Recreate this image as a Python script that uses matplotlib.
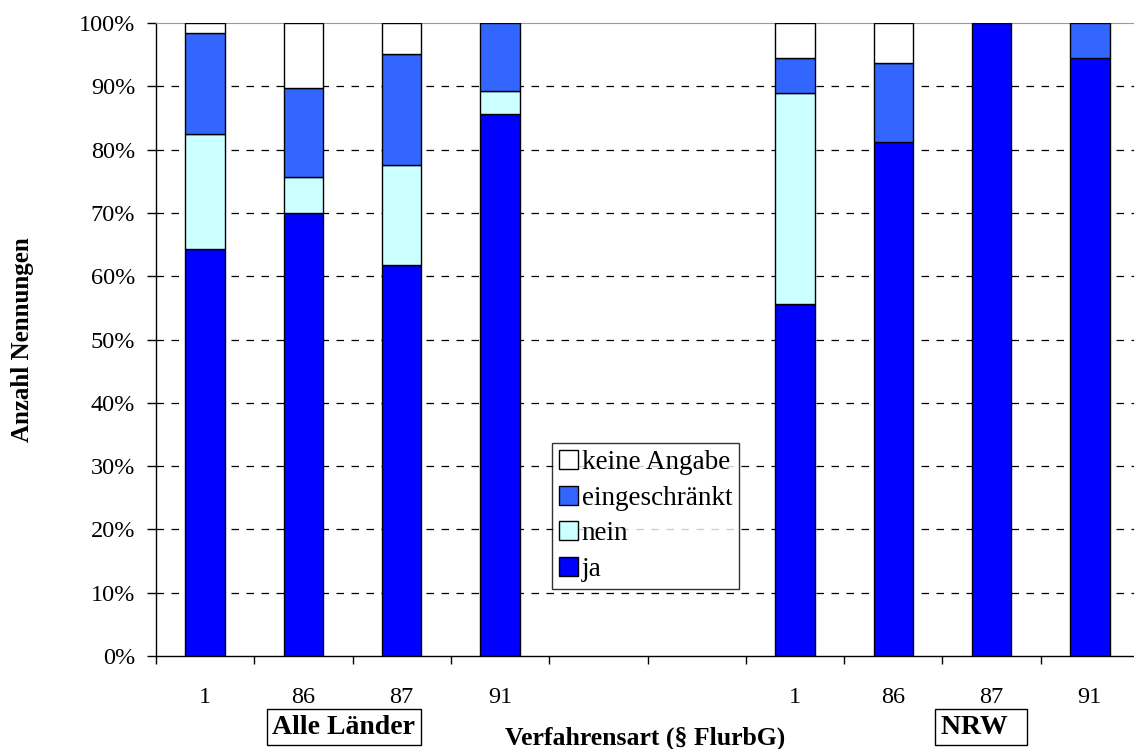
import numpy as np
import matplotlib.pyplot as plt
from matplotlib.patches import Patch

plt.rcParams["font.family"] = ["Liberation Serif", "DejaVu Serif"]

# Verfahrensarten, two empty slots between the two groups
labels = ["1", "86", "87", "91", "", "", "1", "86", "87", "91"]

# shares in percent per answer, NaN for the empty slots
ja = [64.3, 70.0, 61.8, 85.7, np.nan, np.nan, 55.6, 81.25, 100.0, 94.4]
nein = [18.2, 5.7, 15.7, 3.6, np.nan, np.nan, 33.3, 0.0, 0.0, 0.0]
eingeschraenkt = [15.9, 14.0, 17.6, 10.7, np.nan, np.nan, 5.6, 12.5, 0.0, 5.6]
keine_angabe = [1.6, 10.3, 4.9, 0.0, np.nan, np.nan, 5.5, 6.25, 0.0, 0.0]

series = [
    ("ja", ja, "#0000FF"),
    ("nein", nein, "#CCFFFF"),
    ("eingeschränkt", eingeschraenkt, "#3366FF"),
    ("keine Angabe", keine_angabe, "#FFFFFF"),
]

W, H = 1134, 749
fig = plt.figure(figsize=(W / 100, H / 100), dpi=100)
ax = fig.add_axes([156 / W, (H - 656) / H, (1139 - 156) / W, (656 - 23) / H])

x = np.arange(len(labels))
bottom = np.zeros(len(labels))
for name, vals, color in series:
    vals = np.nan_to_num(np.array(vals, dtype=float))
    keep = vals > 0
    ax.bar(x[keep], vals[keep], width=0.4, bottom=bottom[keep], color=color,
           edgecolor="black", linewidth=1.0, zorder=3)
    bottom += vals

ax.set_xlim(-0.5, len(labels) - 0.5)
ax.set_ylim(0, 100)

# y axis
ax.set_yticks(np.arange(0, 101, 10))
ax.set_yticklabels([f"{v}%" for v in range(0, 101, 10)], fontsize=17.5)
ax.tick_params(axis="y", direction="out", length=6.5, width=1, pad=8.5)
for v in range(10, 100, 10):
    ax.axhline(v, color="black", lw=0.9, ls=(0, (6, 6)), zorder=1)

# x axis: ticks between categories, labels centred below
ax.set_xticks(np.arange(-0.5, len(labels), 1.0))
ax.set_xticklabels([])
ax.set_xticks(x, minor=True)
ax.set_xticklabels(labels, minor=True, fontsize=17.5)
ax.tick_params(axis="x", which="major", direction="out", length=6, width=1)
ax.tick_params(axis="x", which="minor", length=0, pad=22)

ax.spines["right"].set_visible(False)
ax.spines["top"].set_color("#999999")
ax.spines["left"].set_linewidth(1)
ax.spines["bottom"].set_linewidth(1)

ax.set_ylabel("Anzahl Nennungen", fontsize=18, fontweight="bold")
ax.yaxis.set_label_coords(-122 / 983, 0.5)
fig.text(645 / W, 1 - 738 / H, "Verfahrensart (§ FlurbG)", ha="center",
         va="center", fontsize=18.5, fontweight="bold")

box = dict(boxstyle="square,pad=0.2", fc="white", ec="black", lw=1)
fig.text(344 / W, 1 - 727 / H, "Alle Länder", ha="center", va="center",
         fontsize=20, fontweight="bold", bbox=box)
fig.text(981 / W, 1 - 727 / H, "NRW  ", ha="center", va="center",
         fontsize=20, fontweight="bold", bbox=box)

handles = [Patch(facecolor=c, edgecolor="black", label=n) for n, _, c in series][::-1]
leg = ax.legend(handles=handles, loc="upper left",
                bbox_to_anchor=((552 - 156) / 983, (656 - 443) / 633),
                fontsize=19.5, frameon=True, fancybox=False, handlelength=0.7,
                handleheight=0.7, handletextpad=0.15, borderpad=0.25,
                labelspacing=0.4, borderaxespad=0)
leg.get_frame().set_edgecolor("black")
leg.get_frame().set_linewidth(1)
leg.set_zorder(5)

fig.savefig("out.png", dpi=100)
